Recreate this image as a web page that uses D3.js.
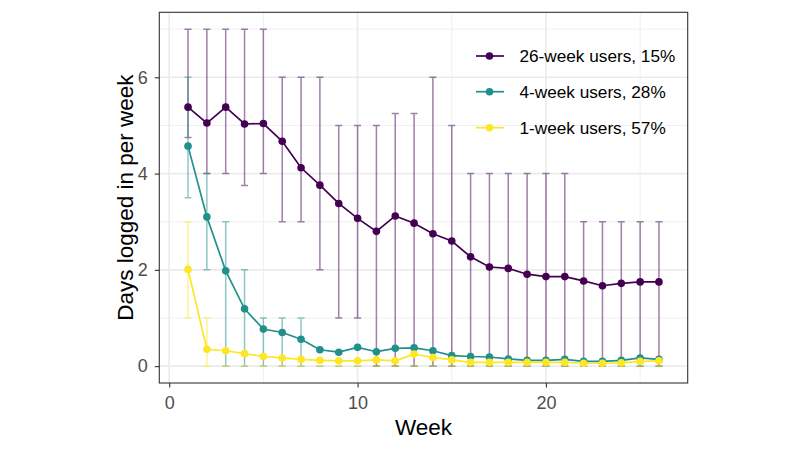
<!DOCTYPE html>
<html>
<head>
<meta charset="utf-8">
<script src="https://cdn.jsdelivr.net/npm/d3@7"></script>
<style>
  html, body { margin: 0; padding: 0; background: #fff; }
  svg { display: block; font-family: "Liberation Sans", Arial, sans-serif; }
</style>
</head>
<body>
<svg id="chart" width="800" height="451"></svg>
<script>
// ---- Data ----
const weeks = d3.range(1, 27);
const seriesNames = ["26-week users, 15%", "4-week users, 28%", "1-week users, 57%"];
const seriesColors = ["#440154", "#21908C", "#FDE725"];

const mean26 = [5.38, 5.05, 5.38, 5.03, 5.04, 4.67, 4.12, 3.76, 3.38, 3.07, 2.80, 3.12, 2.97, 2.75, 2.60, 2.27, 2.06, 2.03, 1.91, 1.86, 1.86, 1.77, 1.67, 1.72, 1.75, 1.75];
const low26  = [4.75, 4, 4, 3.75, 4, 3, 3, 2, 1, 1, 0, 0, 0, 0, 0, 0, 0, 0, 0, 0, 0, 0, 0, 0, 0, 0];
const high26 = [7, 7, 7, 7, 7, 6, 6, 6, 5, 5, 5, 5.25, 5.25, 6, 5, 4, 4, 4, 4, 4, 4, 3, 3, 3, 3, 3];

const mean4 = [4.57, 3.10, 1.98, 1.19, 0.77, 0.70, 0.56, 0.34, 0.29, 0.39, 0.30, 0.37, 0.38, 0.32, 0.22, 0.20, 0.19, 0.15, 0.12, 0.12, 0.14, 0.10, 0.10, 0.12, 0.17, 0.14];
const low4  = [3.5, 2, 0, 0, 0, 0, 0, 0, 0, 0, 0, 0, 0, 0, 0, 0, 0, 0, 0, 0, 0, 0, 0, 0, 0, 0];
const high4 = [6, 4, 3, 2, 1, 1, 1, 0, 0, 0, 0, 0, 0, 0, 0, 0, 0, 0, 0, 0, 0, 0, 0, 0, 0, 0];

const mean1 = [2.01, 0.35, 0.32, 0.26, 0.20, 0.17, 0.14, 0.12, 0.11, 0.11, 0.13, 0.11, 0.25, 0.18, 0.13, 0.08, 0.08, 0.08, 0.08, 0.08, 0.08, 0.06, 0.06, 0.07, 0.10, 0.11];
const low1  = [1, 0, 0, 0, 0, 0, 0, 0, 0, 0, 0, 0, 0, 0, 0, 0, 0, 0, 0, 0, 0, 0, 0, 0, 0, 0];
const high1 = [3, 1, 0, 0, 0, 0, 0, 0, 0, 0, 0, 0, 0, 0, 0, 0, 0, 0, 0, 0, 0, 0, 0, 0, 0, 0];

const xTicks = [0, 10, 20];
const xMinor = [5, 15, 25];
const yTicks = [0, 2, 4, 6];
const yMinor = [1, 3, 5, 7];
const xTitle = "Week";
const yTitle = "Days logged in per week";

// ---- Build series ----
const series = [
  { name: seriesNames[0], color: seriesColors[0], mean: mean26, lo: low26, hi: high26 },
  { name: seriesNames[1], color: seriesColors[1], mean: mean4, lo: low4, hi: high4 },
  { name: seriesNames[2], color: seriesColors[2], mean: mean1, lo: low1, hi: high1 }
].map(s => ({ ...s, pts: weeks.map((w, i) => ({ x: w, y: s.mean[i], lo: s.lo[i], hi: s.hi[i] })) }));

// ---- Layout ----
const svg = d3.select("#chart");
const P = { left: 159.3, top: 12.3, right: 687.7, bottom: 383 };

const x = d3.scaleLinear().domain([-0.525, 27.525]).range([P.left, P.right]);
const y = d3.scaleLinear().domain([-0.35, 7.35]).range([P.bottom, P.top]);

// panel background
svg.append("rect").attr("x", P.left).attr("y", P.top)
  .attr("width", P.right - P.left).attr("height", P.bottom - P.top).attr("fill", "#fff");

// grid
const grid = svg.append("g");
grid.selectAll(".xmin").data(xMinor).join("line")
  .attr("x1", d => x(d)).attr("x2", d => x(d)).attr("y1", P.top).attr("y2", P.bottom)
  .attr("stroke", "#EBEBEB").attr("stroke-width", 0.8);
grid.selectAll(".ymin").data(yMinor).join("line")
  .attr("y1", d => y(d)).attr("y2", d => y(d)).attr("x1", P.left).attr("x2", P.right)
  .attr("stroke", "#EBEBEB").attr("stroke-width", 0.8);
grid.selectAll(".xmaj").data(xTicks).join("line")
  .attr("x1", d => x(d)).attr("x2", d => x(d)).attr("y1", P.top).attr("y2", P.bottom)
  .attr("stroke", "#EBEBEB").attr("stroke-width", 1.6);
grid.selectAll(".ymaj").data(yTicks).join("line")
  .attr("y1", d => y(d)).attr("y2", d => y(d)).attr("x1", P.left).attr("x2", P.right)
  .attr("stroke", "#EBEBEB").attr("stroke-width", 1.6);

// error bars
const capHalf = 3.5;
series.forEach(s => {
  const g = svg.append("g").attr("stroke", s.color).attr("stroke-opacity", 0.5)
    .attr("stroke-width", 1.5).attr("fill", "none");
  g.selectAll("path").data(s.pts).join("path")
    .attr("d", d => {
      const cx = x(d.x), y1 = y(d.hi), y0 = y(d.lo);
      return `M${cx - capHalf},${y1}H${cx + capHalf}M${cx},${y1}V${y0}M${cx - capHalf},${y0}H${cx + capHalf}`;
    });
});

// lines and points
const line = d3.line().x(d => x(d.x)).y(d => y(d.y));
series.forEach(s => {
  svg.append("path").datum(s.pts).attr("d", line)
    .attr("fill", "none").attr("stroke", s.color).attr("stroke-width", 1.7);
  svg.append("g").selectAll("circle").data(s.pts).join("circle")
    .attr("cx", d => x(d.x)).attr("cy", d => y(d.y)).attr("r", 3.8).attr("fill", s.color);
});

// panel border
svg.append("rect").attr("x", P.left).attr("y", P.top)
  .attr("width", P.right - P.left).attr("height", P.bottom - P.top)
  .attr("fill", "none").attr("stroke", "#333333").attr("stroke-width", 1.1);

// axes
const xAxis = svg.append("g").attr("transform", `translate(0,${P.bottom})`)
  .call(d3.axisBottom(x).tickValues(xTicks).tickSize(4.5).tickPadding(8.5).tickFormat(d3.format("d")));
const yAxis = svg.append("g").attr("transform", `translate(${P.left},0)`)
  .call(d3.axisLeft(y).tickValues(yTicks).tickSize(4.5).tickPadding(7).tickFormat(d3.format("d")));
[xAxis, yAxis].forEach(a => {
  a.select(".domain").remove();
  a.selectAll(".tick line").attr("stroke", "#333333").attr("stroke-width", 1.1);
  a.selectAll(".tick text").attr("fill", "#4D4D4D").style("font-size", "18px")
    .style("font-family", "'Liberation Sans', Arial, sans-serif");
});

// axis titles
svg.append("text").attr("x", (P.left + P.right) / 2).attr("y", 435)
  .attr("text-anchor", "middle").attr("fill", "#000").style("font-size", "22.5px").text(xTitle);
svg.append("text")
  .attr("transform", `translate(133,${(P.top + P.bottom) / 2}) rotate(-90)`)
  .attr("text-anchor", "middle").attr("fill", "#000").style("font-size", "22.5px").text(yTitle);

// legend
const legendY = [56, 91.7, 127.7];
const lg = svg.append("g");
series.forEach((s, i) => {
  const row = lg.append("g").attr("transform", `translate(0,${legendY[i]})`);
  row.append("line").attr("x1", 476).attr("x2", 504).attr("y1", 0).attr("y2", 0)
    .attr("stroke", s.color).attr("stroke-width", 1.7);
  row.append("circle").attr("cx", 489.5).attr("cy", 0).attr("r", 3.8).attr("fill", s.color);
  row.append("text").attr("x", 519.5).attr("y", 0).attr("dy", "0.36em")
    .attr("fill", "#000").style("font-size", "17.2px").text(s.name);
});
</script>
</body>
</html>
